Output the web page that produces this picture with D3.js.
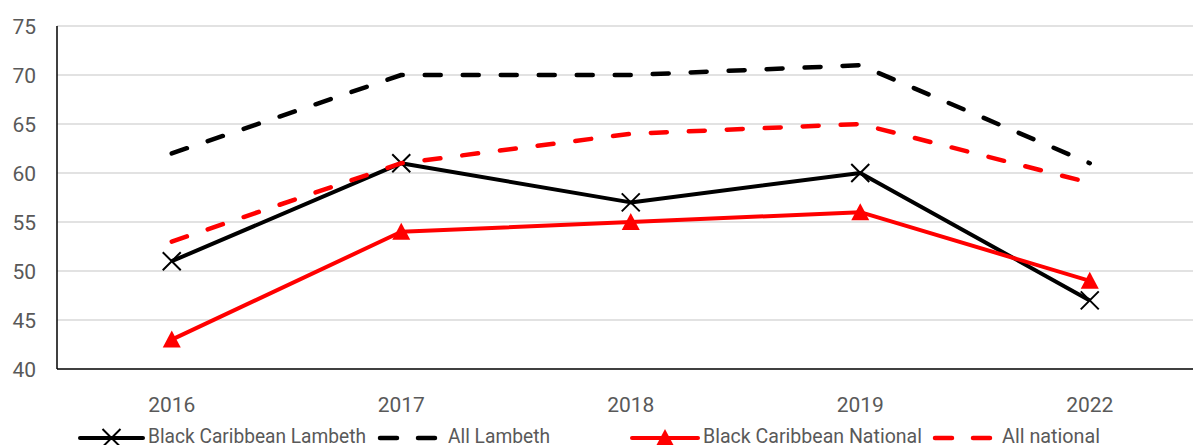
<!DOCTYPE html>
<html>
<head>
<meta charset="utf-8">
<script src="https://cdn.jsdelivr.net/npm/d3@7"></script>
<style>
  body { margin: 0; background: #fff; }
  text { font-family: Roboto, "Open Sans", sans-serif; fill: #595959; }
</style>
</head>
<body>
<svg class="chart" width="1193" height="445"></svg>
<script>
// values
let years = ["2016", "2017", "2018", "2019", "2022"];
let bcLambeth = [51, 61, 57, 60, 47];
let allLambeth = [62, 70, 70, 71, 61];
let bcNational = [43, 54, 55, 56, 49];
let allNational = [53, 61, 64, 65, 59];
let yTicks = [40, 45, 50, 55, 60, 65, 70, 75];

let series = [
  { name: "Black Caribbean Lambeth", values: bcLambeth, color: "#000", dash: null, marker: "x" },
  { name: "All Lambeth", values: allLambeth, color: "#000", dash: "16 22", marker: null },
  { name: "Black Caribbean National", values: bcNational, color: "#ff0000", dash: null, marker: "tri" },
  { name: "All national", values: allNational, color: "#ff0000", dash: "16 22", marker: null }
];

var svg = d3.select(".chart");
let plotLeft = 57, plotTop = 26, plotBottom = 369, bandW = 229.5;

var xScale = d3.scaleBand()
  .domain(years)
  .range([plotLeft, plotLeft + bandW * years.length]);

var yScale = d3.scaleLinear()
  .domain([40, 75])
  .range([plotBottom, plotTop]);

// gridlines
svg.append("g")
  .selectAll("line")
  .data(yTicks.slice(1))
  .join("line")
  .attr("x1", plotLeft)
  .attr("x2", 1193)
  .attr("y1", d => yScale(d))
  .attr("y2", d => yScale(d))
  .attr("stroke", "#d9d9d9")
  .attr("stroke-width", 1.5);

// y tick labels
svg.append("g")
  .selectAll("text")
  .data(yTicks)
  .join("text")
  .attr("x", 36)
  .attr("y", d => yScale(d))
  .attr("dy", "0.36em")
  .attr("text-anchor", "end")
  .style("font-size", "21px")
  .text(d => d);

// axes lines
svg.append("line")
  .attr("x1", plotLeft).attr("x2", plotLeft)
  .attr("y1", plotTop).attr("y2", plotBottom)
  .attr("stroke", "#000").attr("stroke-width", 1.5);
svg.append("line")
  .attr("x1", plotLeft).attr("x2", 1193)
  .attr("y1", plotBottom).attr("y2", plotBottom)
  .attr("stroke", "#000").attr("stroke-width", 1.5);

// x labels
svg.append("g")
  .selectAll("text")
  .data(years)
  .join("text")
  .attr("x", d => xScale(d) + xScale.bandwidth() / 2)
  .attr("y", 412)
  .attr("text-anchor", "middle")
  .style("font-size", "21px")
  .text(d => d);

let cx = d => xScale(d) + xScale.bandwidth() / 2;

function drawMarker(g, type, x, y, color) {
  if (type == "x") {
    let s = 9;
    g.append("path")
     .attr("d", `M${x - s},${y - s}L${x + s},${y + s}M${x - s},${y + s}L${x + s},${y - s}`)
     .attr("stroke", color)
     .attr("stroke-width", 2)
     .attr("fill", "none");
  } else if (type == "tri") {
    g.append("path")
     .attr("d", `M${x},${y - 9}L${x + 9},${y + 8}L${x - 9},${y + 8}Z`)
     .attr("fill", color);
  }
}

let plot = svg.append("g");
for (let i = 0; i < series.length; i++) {
  let s = series[i];
  let line = d3.line()
    .x((d, j) => cx(years[j]))
    .y(d => yScale(d));
  plot.append("path")
    .datum(s.values)
    .attr("fill", "none")
    .attr("stroke", s.color)
    .attr("stroke-width", s.dash ? 4.5 : 4)
    .attr("stroke-linecap", s.dash ? "round" : "butt")
    .attr("stroke-linejoin", "round")
    .attr("stroke-dasharray", s.dash)
    .attr("d", line);
  if (s.marker) {
    s.values.forEach((v, j) => drawMarker(plot, s.marker, cx(years[j]), yScale(v), s.color));
  }
}

// legend
let legendY = 438;
let legendPos = [
  { x1: 80, x2: 143, tx: 148, w: 218 },
  { x1: 378, x2: 437, tx: 448, w: 102 },
  { x1: 632, x2: 698, tx: 703, w: 219 },
  { x1: 933, x2: 992, tx: 1002, w: 98 }
];
let lg = svg.append("g");
series.forEach((s, i) => {
  let p = legendPos[i];
  lg.append("line")
    .attr("x1", p.x1 + (s.dash ? 2 : 0)).attr("x2", p.x2 - (s.dash ? 2 : 0))
    .attr("y1", legendY).attr("y2", legendY)
    .attr("stroke", s.color)
    .attr("stroke-width", s.dash ? 4.5 : 4)
    .attr("stroke-linecap", "round")
    .attr("stroke-dasharray", s.dash ? "17 21" : null);
  if (s.marker) drawMarker(lg, s.marker, (p.x1 + p.x2) / 2, legendY, s.color);
  lg.append("text")
    .attr("x", p.tx)
    .attr("y", 443)
    .attr("textLength", p.w)
    .attr("lengthAdjust", "spacingAndGlyphs")
    .style("font-size", "21px")
    .text(s.name);
});
</script>
</body>
</html>
